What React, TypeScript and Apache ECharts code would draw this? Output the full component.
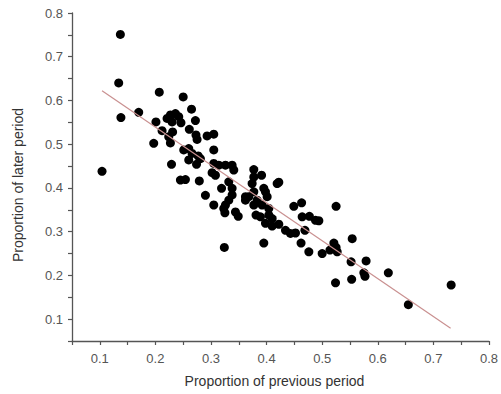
import React, { useEffect, useRef } from "react";
import * as echarts from "echarts";

const previousPeriod: number[] = [
  0.104, 0.134, 0.137, 0.138, 0.170, 0.207, 0.201, 0.197, 0.212, 0.221,
  0.227, 0.236, 0.242, 0.230, 0.246, 0.250, 0.265, 0.272, 0.261, 0.231,
  0.224, 0.227, 0.273, 0.275, 0.293, 0.305, 0.305, 0.251, 0.260, 0.266,
  0.277, 0.281, 0.260, 0.274, 0.229, 0.254, 0.245, 0.279, 0.305, 0.302,
  0.308, 0.314, 0.326, 0.338, 0.341, 0.319, 0.332, 0.338, 0.362, 0.290,
  0.305, 0.326, 0.325, 0.332, 0.338, 0.344, 0.349, 0.324, 0.362, 0.377,
  0.398, 0.401, 0.377, 0.392, 0.404, 0.381, 0.404, 0.410, 0.398, 0.410,
  0.422, 0.449, 0.463, 0.464, 0.477, 0.488, 0.494, 0.525, 0.434, 0.443,
  0.452, 0.469, 0.395, 0.462, 0.476, 0.500, 0.514, 0.521, 0.525, 0.527,
  0.554, 0.552, 0.579, 0.575, 0.577, 0.619, 0.524, 0.553, 0.655, 0.732,
  0.377, 0.391, 0.422, 0.377, 0.374, 0.419, 0.323, 0.368, 0.395, 0.383,
  0.389,
];

const laterPeriod: number[] = [
  0.438, 0.640, 0.751, 0.561, 0.573, 0.619, 0.551, 0.502, 0.531, 0.559,
  0.567, 0.570, 0.563, 0.551, 0.549, 0.608, 0.580, 0.554, 0.534, 0.528,
  0.517, 0.503, 0.521, 0.511, 0.519, 0.523, 0.487, 0.487, 0.490, 0.479,
  0.473, 0.467, 0.464, 0.454, 0.454, 0.419, 0.418, 0.416, 0.456, 0.435,
  0.429, 0.452, 0.452, 0.452, 0.441, 0.399, 0.414, 0.399, 0.380, 0.383,
  0.361, 0.361, 0.343, 0.372, 0.384, 0.345, 0.335, 0.264, 0.372, 0.391,
  0.391, 0.380, 0.361, 0.361, 0.353, 0.338, 0.338, 0.330, 0.319, 0.313,
  0.317, 0.358, 0.366, 0.334, 0.335, 0.326, 0.325, 0.358, 0.303, 0.296,
  0.297, 0.303, 0.274, 0.274, 0.254, 0.250, 0.258, 0.274, 0.264, 0.254,
  0.284, 0.231, 0.233, 0.206, 0.198, 0.206, 0.183, 0.191, 0.133, 0.178,
  0.442, 0.429, 0.413, 0.425, 0.410, 0.410, 0.353, 0.380, 0.399, 0.372,
  0.334,
];

// Fitted regression line endpoints
const fitX: number[] = [0.104, 0.731];
const fitY: number[] = [0.622, 0.079];

const axisMin = 0.05;
const axisMax = 0.8;
const axisStep = 0.05;

const xTitle = "Proportion of previous period";
const yTitle = "Proportion of later period";

export default function App() {
  const ref = useRef<HTMLDivElement>(null);

  useEffect(() => {
    if (!ref.current) return;
    const chart = echarts.init(ref.current, null, { renderer: "svg" });
    const labelFmt = (v: number) => {
      const r = Math.round(v * 100);
      return r % 10 === 0 ? (r / 100).toFixed(1) : "";
    };
    const axisCommon = {
      type: "value" as const,
      min: axisMin,
      max: axisMax,
      interval: axisStep,
      splitLine: { show: false },
      axisLine: { show: true, lineStyle: { color: "#555", width: 1.3 } },
      axisTick: { show: true, inside: false, length: 4, lineStyle: { color: "#555", width: 1.2 } },
      axisLabel: {
        formatter: labelFmt,
        color: "#555",
        fontSize: 13,
        fontFamily: "Liberation Sans, Arial, sans-serif",
      },
      nameLocation: "middle" as const,
    };
    chart.setOption({
      animation: false,
      backgroundColor: "#fff",
      grid: { left: 72, right: 11, top: 13, bottom: 53, containLabel: false },
      xAxis: {
        ...axisCommon,
        name: xTitle,
        nameGap: 33,
        nameTextStyle: {
          color: "#333",
          fontSize: 14,
          fontFamily: "Liberation Sans, Arial, sans-serif",
          padding: [0, 12, 0, 0],
        },
        axisLabel: { ...axisCommon.axisLabel, margin: 11 },
      },
      yAxis: {
        ...axisCommon,
        name: yTitle,
        nameGap: 47,
        nameTextStyle: {
          color: "#333",
          fontSize: 14,
          fontFamily: "Liberation Sans, Arial, sans-serif",
          padding: [0, 16, 0, 0],
        },
        axisLabel: { ...axisCommon.axisLabel, margin: 9 },
      },
      series: [
        {
          type: "line",
          data: fitX.map((x, i) => [x, fitY[i]]),
          symbol: "none",
          lineStyle: { color: "#c99090", width: 1.2 },
          z: 3,
        },
        {
          type: "scatter",
          data: previousPeriod.map((x, i) => [x, laterPeriod[i]]),
          symbolSize: 9,
          itemStyle: { color: "#000", opacity: 1 },
          z: 2,
        },
      ],
    });
    return () => chart.dispose();
  }, []);

  return (
    <div
      ref={ref}
      style={{ position: "fixed", left: 0, top: 0, width: 501, height: 394 }}
    />
  );
}
